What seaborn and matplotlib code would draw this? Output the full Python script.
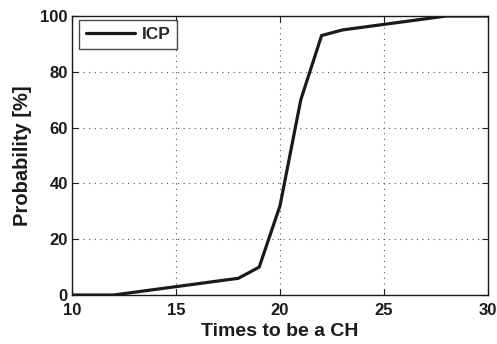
import matplotlib
matplotlib.use("Agg")
import matplotlib.pyplot as plt
import seaborn as sns
import pandas as pd

times = [10, 12, 18, 19, 20, 21, 22, 23, 28, 30]
probability = [0, 0, 6, 10, 32, 70, 93, 95, 100, 100]
series_name = "ICP"
x_ticks = [10, 15, 20, 25, 30]
y_ticks = [0, 20, 40, 60, 80, 100]

sns.set_theme(style="white")
plt.rcParams['font.family'] = ['Liberation Sans', 'DejaVu Sans']
plt.rcParams['font.weight'] = 'bold'

df = pd.DataFrame({"t": times, "p": probability, "s": series_name})

fig = plt.figure(figsize=(4.97, 3.44), dpi=100)
ax = fig.add_axes([0.1449, 0.1424, 0.8370, 0.8111])
sns.lineplot(data=df, x="t", y="p", hue="s", palette=["#1a1a1a"], linewidth=2.3, ax=ax)

ax.set_xlim(10, 30)
ax.set_ylim(0, 100)
ax.set_xticks(x_ticks)
ax.set_yticks(y_ticks)
ax.tick_params(direction='in', length=4, width=0.8, labelsize=12, colors='#1a1a1a',
               top=True, right=True, bottom=True, left=True)
ax.tick_params(axis='x', pad=6)
ax.tick_params(axis='y', pad=3)
for lab in ax.get_xticklabels() + ax.get_yticklabels():
    lab.set_fontweight('bold')
ax.grid(True, linestyle=(0, (1, 4)), color='#555555', linewidth=0.8)
for sp in ax.spines.values():
    sp.set_color('#1a1a1a')
    sp.set_linewidth(1.0)
ax.set_xlabel("Times to be a CH", fontsize=14, fontweight='bold', labelpad=3, color='#1a1a1a')
ax.set_ylabel("Probability [%]", fontsize=14.5, fontweight='bold', labelpad=6, color='#1a1a1a')

leg = ax.legend(loc='upper left', fontsize=12.5, frameon=True, fancybox=False,
                edgecolor='#1a1a1a', handlelength=2.8, handletextpad=0.4, borderpad=0.4,
                bbox_to_anchor=(0.017, 0.985), borderaxespad=0)
leg.get_frame().set_linewidth(1.0)
for t in leg.get_texts():
    t.set_fontweight('bold')

fig.savefig("out.png", dpi=100)
